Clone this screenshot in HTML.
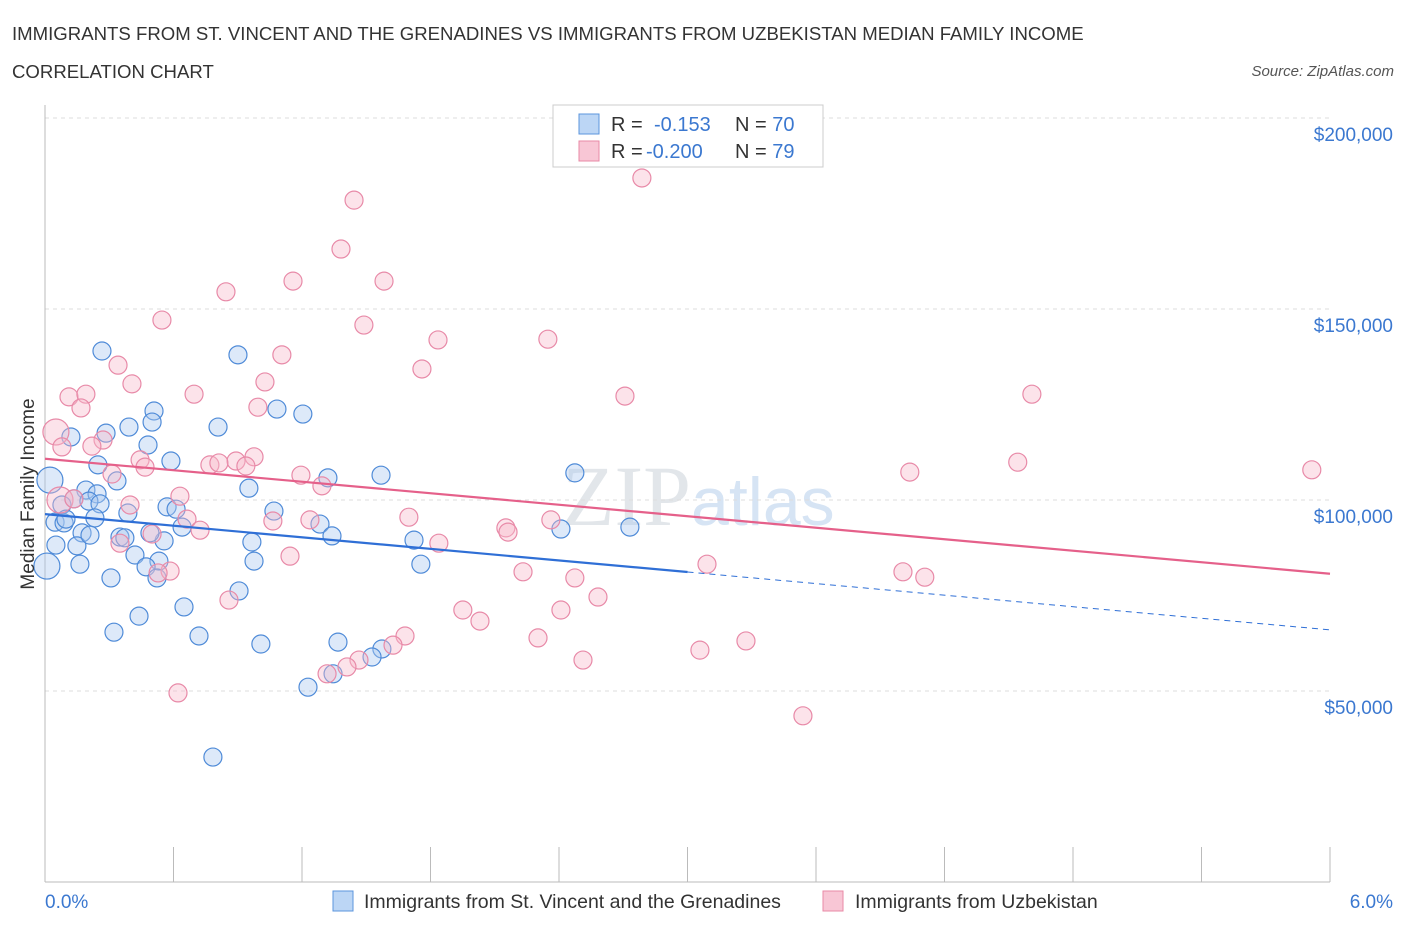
<!DOCTYPE html>
<html><head><meta charset="utf-8"><style>
body{margin:0;background:#fff;font-family:"Liberation Sans",sans-serif;}
svg{display:block}
</style></head><body>
<svg id="c" width="1406" height="930" xmlns="http://www.w3.org/2000/svg">
<text x="12" y="40" font-size="18.6" fill="#333">IMMIGRANTS FROM ST. VINCENT AND THE GRENADINES VS IMMIGRANTS FROM UZBEKISTAN MEDIAN FAMILY INCOME</text>
<text x="12" y="78" font-size="18.6" fill="#333">CORRELATION CHART</text>
<text x="1394" y="76" font-size="15" fill="#555" font-style="italic" text-anchor="end">Source: ZipAtlas.com</text>
<text x="562" y="525" font-size="86" fill="#e2e6ea" font-family="Liberation Serif,serif">ZIP<tspan font-family="Liberation Sans,sans-serif" font-size="68" fill="#d6e4f4">atlas</tspan></text>
<g id="grid"></g><g id="axes"></g><g id="pts"></g><g id="trend"></g>
<text transform="translate(34,494) rotate(-90)" font-size="19" fill="#333" text-anchor="middle">Median Family Income</text>
<g>
<rect x="553" y="105" width="270" height="62" fill="#fff" stroke="#ccc"/>
<rect x="579" y="114" width="20" height="20" fill="#bcd6f5" stroke="#5b95dd"/>
<rect x="579" y="141" width="20" height="20" fill="#f8c6d5" stroke="#e889a6"/>
<text x="611" y="131" font-size="20" fill="#333">R = <tspan fill="#3b78d0" x="654">-0.153</tspan><tspan x="735">N = </tspan><tspan fill="#3b78d0">70</tspan></text>
<text x="611" y="158" font-size="20" fill="#333">R = <tspan fill="#3b78d0" x="646">-0.200</tspan><tspan x="735">N = </tspan><tspan fill="#3b78d0">79</tspan></text>
</g>
<g>
<rect x="333" y="891" width="20" height="20" fill="#bcd6f5" stroke="#5b95dd"/>
<text x="364" y="908" font-size="19.5" fill="#333">Immigrants from St. Vincent and the Grenadines</text>
<rect x="823" y="891" width="20" height="20" fill="#f8c6d5" stroke="#e889a6"/>
<text x="855" y="908" font-size="19.5" fill="#333">Immigrants from Uzbekistan</text>
</g>
</svg>
<script>
const yTicks=[50,100,150,200];
const yTickLabels=["$50,000","$100,000","$150,000","$200,000"];
const xTickLabels=["0.0%","6.0%"];
const blueX=[0.266,0.901,0.509,1.083,1.204,0.121,0.285,0.392,0.500,0.808,0.481,0.588,1.569,1.321,2.474,0.023,0.336,0.952,0.191,0.243,0.135,0.205,0.257,0.079,0.570,0.612,1.069,0.233,0.047,0.089,0.640,1.284,2.731,2.409,0.173,0.350,0.373,1.340,0.556,0.966,1.723,0.051,0.149,0.420,0.976,0.009,0.163,0.532,0.472,1.755,0.523,0.308,0.906,0.649,0.439,0.322,0.719,1.368,1.008,1.573,1.527,1.228,1.345,0.784,0.210,0.098,0.490,0.387,0.247];
const blueY=[139.0,138.0,123.3,123.8,122.5,116.5,117.5,119.1,120.4,119.1,114.4,110.2,106.5,105.8,107.1,105.2,105.0,103.1,102.6,101.6,100.3,99.7,99.0,98.7,98.2,97.6,97.1,95.3,94.2,94.0,92.9,93.7,92.9,92.4,91.4,90.3,90.1,90.6,89.3,89.0,89.5,88.2,88.0,85.6,84.0,82.7,83.2,84.0,82.5,83.2,79.6,79.6,76.2,72.0,69.6,65.4,64.4,62.8,62.3,61.0,58.9,51.0,54.5,32.7,90.8,95.0,91.4,96.6,109.2];
const pinkX=[2.787,1.443,1.382,1.158,1.583,0.845,0.546,1.489,1.835,2.348,1.106,1.760,0.341,0.406,1.027,0.696,0.112,0.191,2.708,4.608,0.168,0.994,0.051,0.271,0.079,0.219,0.976,0.892,0.444,0.770,0.938,0.812,1.195,4.038,4.542,5.915,0.313,0.467,1.293,0.630,0.070,0.135,0.397,0.663,1.064,1.237,1.699,2.362,2.152,2.162,0.724,0.500,0.350,1.839,1.144,0.584,0.528,2.232,2.474,3.091,4.006,4.108,2.582,1.951,2.409,2.031,2.302,1.681,1.625,3.273,3.058,1.466,1.410,1.317,2.512,0.621,0.859,3.539];
const pinkY=[184.3,178.5,165.7,157.3,157.3,154.5,147.1,145.8,141.9,142.1,138.0,134.3,135.3,130.4,130.9,127.7,127.0,127.7,127.2,127.7,124.1,124.3,117.8,115.7,113.9,114.1,111.3,110.2,110.5,109.2,108.9,109.7,106.5,107.3,109.9,107.9,106.8,108.6,103.7,101.0,100.0,100.3,98.7,95.0,94.5,94.8,95.5,94.8,92.7,91.6,92.1,91.1,88.7,88.7,85.3,81.4,80.9,81.2,79.6,83.2,81.2,79.8,74.6,71.2,71.2,68.3,63.9,64.4,62.0,63.1,60.7,58.1,56.3,54.5,58.1,49.5,73.8,43.5];
const blueTrend=[96.3,66.0];
const pinkTrend=[110.8,80.7];
const blueSolidEnd=3.0;

const NS="http://www.w3.org/2000/svg";
const X=v=>45+v/6*1285;
const Y=v=>882-v*191/50;
function mk(tag,attrs,parent){const e=document.createElementNS(NS,tag);for(const k in attrs)e.setAttribute(k,attrs[k]);document.getElementById(parent).appendChild(e);return e;}
yTicks.forEach((t,i)=>{
 const g=mk('line',{x1:45,x2:1330,y1:Y(t),y2:Y(t),stroke:'#ddd','stroke-dasharray':'4,4'},'grid');
 
 
 const l=mk('text',{x:1393,y:Y(t)+23,'font-size':19,fill:'#3b78d0','text-anchor':'end'},'axes');
 l.textContent=yTickLabels[i];
 
 
});
const ya=mk('line',{x1:45,x2:45,y1:105,y2:882,stroke:'#bbb'},'axes');


const xa=mk('line',{x1:45,x2:1330,y1:882,y2:882,stroke:'#bbb'},'axes');


for(let i=0;i<=10;i++){
 const t=mk('line',{x1:X(i*0.6),x2:X(i*0.6),y1:847,y2:882,stroke:'#bbb'},'axes');
 
 
}
[[0,45,'start'],[6,1393,'end']].forEach((d,i)=>{
 const l=mk('text',{x:d[1],y:908,'font-size':19,fill:'#3b78d0','text-anchor':d[2]},'axes');
 l.textContent=xTickLabels[i];
 
 
});
function pts(xs,ys,fill,stroke,name,big){
 xs.forEach((x,i)=>{
  const c=mk('circle',{cx:X(x),cy:Y(ys[i]),r:x<big?13:9,fill:fill,'fill-opacity':0.4,stroke:stroke,'stroke-width':1.2},'pts');
  
  
 });
}
pts(blueX,blueY,'#a9c9f0','#4f8bd8','blue-point',0.03);
pts(pinkX,pinkY,'#f7b9cb','#e88aa8','pink-point',0.075);
const bt=v=>blueTrend[0]+(blueTrend[1]-blueTrend[0])*v/6;
const b1=mk('line',{x1:X(0),y1:Y(bt(0)),x2:X(blueSolidEnd),y2:Y(bt(blueSolidEnd)),stroke:'#2f6fd6','stroke-width':2.2},'trend');


const b2=mk('line',{x1:X(blueSolidEnd),y1:Y(bt(blueSolidEnd)),x2:X(6),y2:Y(bt(6)),stroke:'#2f6fd6','stroke-width':1,'stroke-dasharray':'6,5'},'trend');


const p1=mk('line',{x1:X(0),y1:Y(pinkTrend[0]),x2:X(6),y2:Y(pinkTrend[1]),stroke:'#e5608a','stroke-width':2.2},'trend');


</script>
</body></html>
